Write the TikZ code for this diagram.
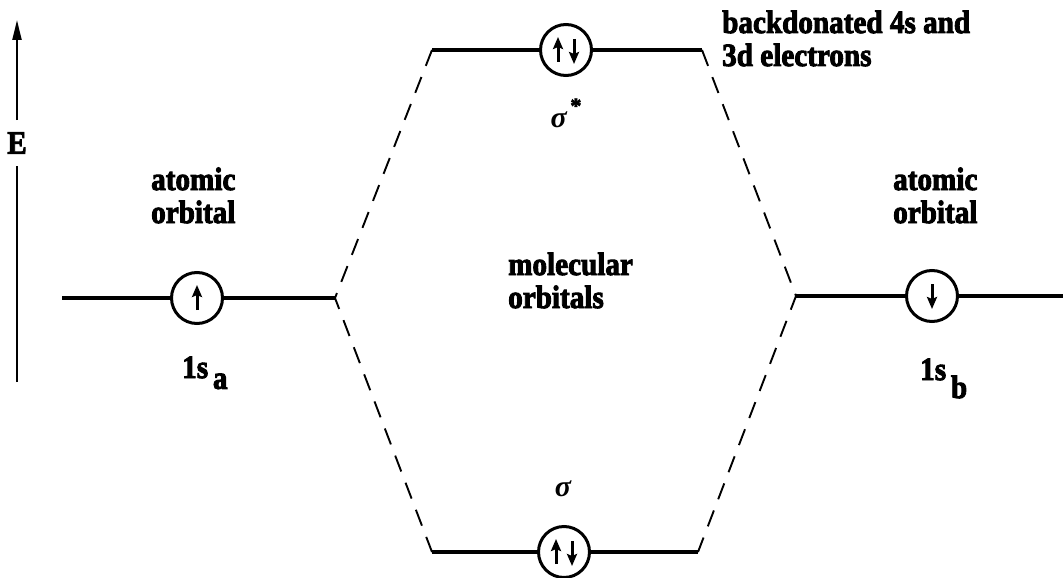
\documentclass[tikz,border=0pt]{standalone}
\usepackage{fontspec}
\usepackage{graphicx}
\setmainfont{Liberation Serif}[BoldFeatures={FakeBold=3}]
\usetikzlibrary{arrows.meta,calc}
% wider, taller label text
\newcommand\tall[1]{\scalebox{1.08}[1.2]{#1}}
\begin{document}
\begin{tikzpicture}[x=1pt,y=-1pt,
  lvl/.style={line width=3.4pt},
  orb/.style={circle,draw,line width=3pt,minimum size=51pt,inner sep=0pt},
  corr/.style={line width=1.9pt,dash pattern=on 17pt off 12pt},
  spin/.style={line width=3pt,-{Stealth[length=12pt,width=10pt,inset=2pt]}},
  lbl/.style={font=\fontsize{27}{32}\selectfont\bfseries,inner sep=0pt},
  greek/.style={font=\fontsize{30}{32}\selectfont\bfseries\itshape,inner sep=0pt}]
\useasboundingbox (0,0) rectangle (1063,578);

% energy axis
\coordinate (ax0) at (17,382);
\coordinate (ax1) at (17,20);
\node[lbl,inner ysep=12pt] (E) at (17,143) {\tall{E}};
\draw[line width=2.2pt] (ax0) -- (E.south);
\draw[line width=2.2pt,-{Triangle[length=20pt,width=9pt]}] (E.north) -- (ax1);

% level end points
\coordinate (la) at (62,298);
\coordinate (lv) at (335,298);
\coordinate (t1) at (432,50);
\coordinate (t2) at (702,50);
\coordinate (b1) at (432,552);
\coordinate (b2) at (698,552);
\coordinate (rv) at (796,296);
\coordinate (rb) at (1063,296);

% orbital circles
\node[orb] (ca) at (197,298) {};
\node[orb] (cb) at (932,296) {};
\node[orb] (cs) at (566,50) {};
\node[orb] (cg) at (564,552) {};

% energy levels
\draw[lvl] (la) -- (ca);
\draw[lvl] (ca) -- (lv);
\draw[lvl] (rv) -- (cb);
\draw[lvl] (cb) -- (rb);
\draw[lvl] (t1) -- (cs);
\draw[lvl] (cs) -- (t2);
\draw[lvl] (b1) -- (cg);
\draw[lvl] (cg) -- (b2);

% correlation lines
\draw[corr] (t1) -- (lv) -- (b1);
\draw[corr] (t2) -- (rv) -- (b2);

% electron spins
\draw[spin] ($(ca)+(0,12)$) -- ($(ca)+(0,-13)$);
\draw[spin] ($(cb)+(0,-12)$) -- ($(cb)+(0,13)$);
\draw[spin] ($(cs)+(-8,12)$) -- ($(cs)+(-8,-13)$);
\draw[spin] ($(cs)+(8,-11)$) -- ($(cs)+(8,14)$);
\draw[spin] ($(cg)+(-8,12)$) -- ($(cg)+(-8,-13)$);
\draw[spin] ($(cg)+(8,-11)$) -- ($(cg)+(8,14)$);

% labels
\node[lbl,anchor=base west] (ta1) at (151,190) {\tall{atomic}};
\node[lbl,anchor=base west] (ta2) at (151,223) {\tall{orbital}};
\node[lbl,anchor=base west] (tb1) at (893,190) {\tall{atomic}};
\node[lbl,anchor=base west] (tb2) at (893,223) {\tall{orbital}};
\node[lbl,anchor=base west] (tm1) at (508,275) {\tall{molecular}};
\node[lbl,anchor=base west] (tm2) at (508,308) {\tall{orbitals}};
\node[lbl,anchor=base west] (tk1) at (722,33) {\tall{backdonated 4s and}};
\node[lbl,anchor=base west] (tk2) at (722,66) {\tall{3d electrons}};
\node[greek] (ss) at (566,113) {σ\raisebox{14pt}{\fontsize{22}{22}\selectfont\upshape\,*}};
\node[greek] (sg) at (563,489) {σ};
\node[lbl,anchor=base west] (sa) at (182,378) {\tall{1s\,\raisebox{-9pt}{a}}};
\node[lbl,anchor=base west] (sb) at (920,380) {\tall{1s\,\raisebox{-15pt}{b}}};
\end{tikzpicture}
\end{document}
